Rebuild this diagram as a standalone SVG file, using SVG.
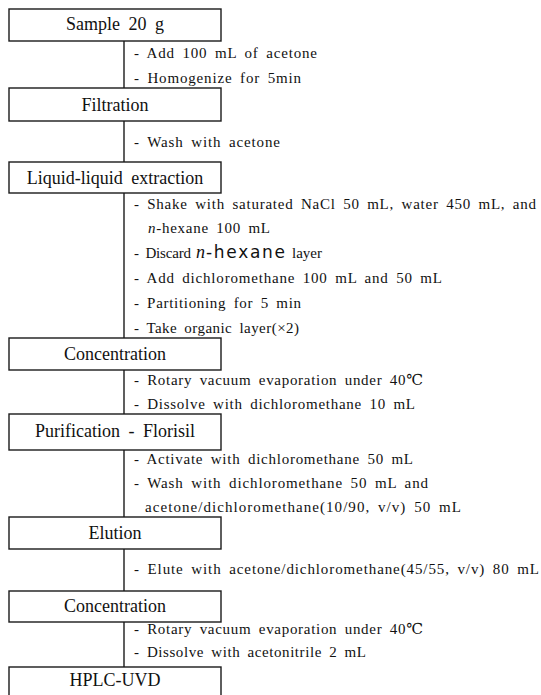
<svg xmlns="http://www.w3.org/2000/svg" width="541" height="695" viewBox="0 0 541 695">
<style>
.box{fill:#fff;stroke:#1a1a1a;stroke-width:1.4}
.lbl{font-family:'Liberation Serif','DejaVu Serif','Times New Roman',serif;font-size:18px;fill:#111;text-anchor:middle;word-spacing:4px}
.t{font-family:'Liberation Serif','DejaVu Serif','Times New Roman',serif;font-size:15px;fill:#111;word-spacing:3px}
.it{font-style:italic;font-size:18px}
.sans{font-family:'DejaVu Sans','Liberation Sans',sans-serif;font-size:17px}
.con{stroke:#1a1a1a;stroke-width:1.4;fill:none}
</style>
<rect width="541" height="695" fill="#fff"/>
<g id="connectors">
<line class="con" x1="124" y1="41" x2="124" y2="88"/>
<line class="con" x1="124" y1="121" x2="124" y2="162"/>
<line class="con" x1="124" y1="193" x2="124" y2="338"/>
<line class="con" x1="124" y1="370" x2="124" y2="414"/>
<line class="con" x1="124" y1="450" x2="124" y2="517"/>
<line class="con" x1="124" y1="549" x2="124" y2="591"/>
<line class="con" x1="124" y1="622" x2="124" y2="667"/>
</g>
<g id="n1"><rect class="box" x="9" y="9" width="212" height="32"/><text class="lbl" x="115" y="30">Sample 20 g</text></g>
<g id="n2"><rect class="box" x="9" y="88" width="212" height="33"/><text class="lbl" x="115" y="111">Filtration</text></g>
<g id="n3"><rect class="box" x="9" y="162" width="212" height="31"/><text class="lbl" x="115" y="184">Liquid-liquid extraction</text></g>
<g id="n4"><rect class="box" x="9" y="338" width="212" height="32"/><text class="lbl" x="115" y="360">Concentration</text></g>
<g id="n5"><rect class="box" x="9" y="414" width="212" height="36"/><text class="lbl" x="115" y="437">Purification - Florisil</text></g>
<g id="n6"><rect class="box" x="9" y="517" width="212" height="32"/><text class="lbl" x="115" y="539">Elution</text></g>
<g id="n7"><rect class="box" x="9" y="591" width="212" height="31"/><text class="lbl" x="115" y="612">Concentration</text></g>
<g id="n8"><rect class="box" x="9" y="667" width="212" height="32"/><text class="lbl" x="115" y="686">HPLC-UVD</text></g>
<g id="notes">
<text class="t" x="134" y="57.5" textLength="183" lengthAdjust="spacing">- Add 100 mL of acetone</text>
<text class="t" x="134" y="82.5" textLength="167" lengthAdjust="spacing">- Homogenize for 5min</text>
<text class="t" x="134" y="146.5" textLength="146" lengthAdjust="spacing">- Wash with acetone</text>
<text class="t" x="134" y="208.5" textLength="402" lengthAdjust="spacing">- Shake with saturated NaCl 50 mL, water 450 mL, and</text>
<text class="t" x="148" y="232.5" textLength="122" lengthAdjust="spacing"><tspan font-style="italic">n</tspan>-hexane 100 mL</text>
<text class="t" x="134" y="258" textLength="57" lengthAdjust="spacing">- Discard</text>
<text class="t it" x="196" y="258">n</text>
<text class="t sans" x="206" y="258" textLength="79" lengthAdjust="spacing">-hexane</text>
<text class="t" x="292" y="258" textLength="30" lengthAdjust="spacing">layer</text>
<text class="t" x="134" y="283" textLength="308" lengthAdjust="spacing">- Add dichloromethane 100 mL and 50 mL</text>
<text class="t" x="134" y="308" textLength="167" lengthAdjust="spacing">- Partitioning for 5 min</text>
<text class="t" x="134" y="332.5" textLength="165" lengthAdjust="spacing">- Take organic layer(×2)</text>
<text class="t" x="134" y="384.5" textLength="289" lengthAdjust="spacing">- Rotary vacuum evaporation under 40℃</text>
<text class="t" x="134" y="408.5" textLength="281" lengthAdjust="spacing">- Dissolve with dichloromethane 10 mL</text>
<text class="t" x="134" y="464" textLength="279" lengthAdjust="spacing">- Activate with dichloromethane 50 mL</text>
<text class="t" x="134" y="488" textLength="294" lengthAdjust="spacing">- Wash with dichloromethane 50 mL and</text>
<text class="t" x="145" y="512" textLength="316" lengthAdjust="spacing">acetone/dichloromethane(10/90, v/v) 50 mL</text>
<text class="t" x="134" y="573.5" textLength="405" lengthAdjust="spacing">- Elute with acetone/dichloromethane(45/55, v/v) 80 mL</text>
<text class="t" x="134" y="633.5" textLength="289" lengthAdjust="spacing">- Rotary vacuum evaporation under 40℃</text>
<text class="t" x="134" y="657" textLength="232" lengthAdjust="spacing">- Dissolve with acetonitrile 2 mL</text>
</g>
</svg>
